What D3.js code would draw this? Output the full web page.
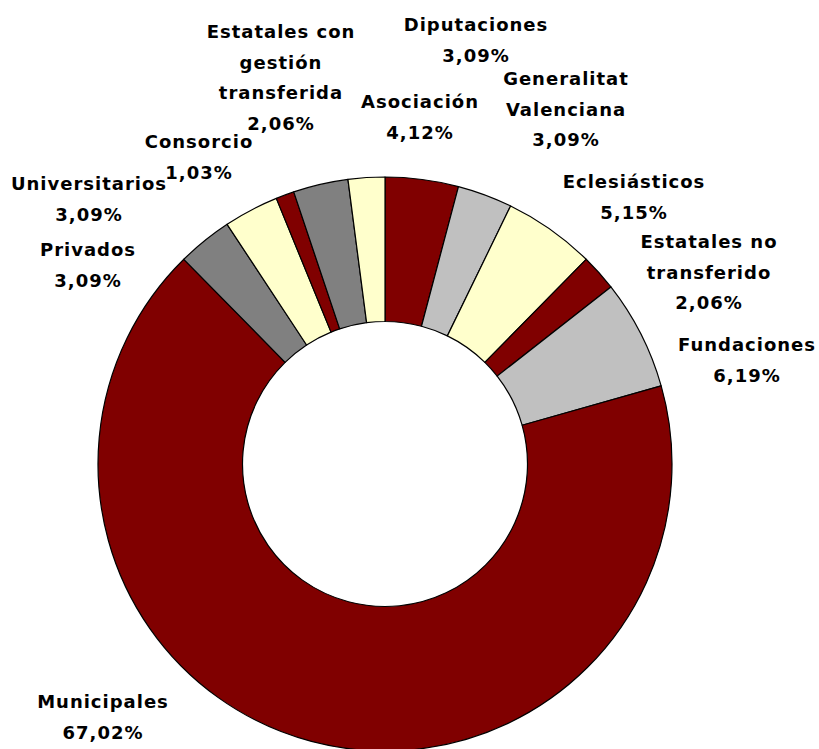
<!DOCTYPE html>
<html>
<head>
<meta charset="utf-8">
<script src="https://cdn.jsdelivr.net/npm/d3@7"></script>
<style>
  html, body { margin: 0; padding: 0; background: #fff; }
  svg { display: block; }
  .lbl { font-family: "DejaVu Sans", Verdana, sans-serif; font-weight: bold; font-size: 18px; letter-spacing: 1px; fill: #000; }
</style>
</head>
<body>
<svg id="chart" width="819" height="749"></svg>
<script>
// Museos por titularidad (%), clockwise from 12 o'clock
const categories = [
  "Asociación",
  "Diputaciones",
  "Eclesiásticos",
  "Estatales no transferido",
  "Fundaciones",
  "Municipales",
  "Privados",
  "Universitarios",
  "Consorcio",
  "Generalitat Valenciana",
  "Estatales con gestión transferida"
];
const values = [4.12, 3.09, 5.15, 2.06, 6.19, 67.02, 3.09, 3.09, 1.03, 3.09, 2.06];

// Label text, split into lines as printed
const labelLines = [
  ["Asociación"],
  ["Diputaciones"],
  ["Eclesiásticos"],
  ["Estatales no", "transferido"],
  ["Fundaciones"],
  ["Municipales"],
  ["Privados"],
  ["Universitarios"],
  ["Consorcio"],
  ["Generalitat", "Valenciana"],
  ["Estatales con", "gestión", "transferida"]
];

const sliceColors = ["#800000", "#C0C0C0", "#FFFFCC", "#800000", "#C0C0C0",
                     "#800000", "#808080", "#FFFFCC", "#800000", "#808080", "#FFFFCC"];

// Label anchor (centre x, first-line y) for each slice
const labelAnchor = [
  [420, 101], [476, 24], [634, 181], [709, 241], [747, 344],
  [103, 701], [88, 249], [89, 183], [199, 141], [566, 78], [281, 31]
];

const svg = d3.select("#chart");
const cx = 385, cy = 464;
const outerR = 287, innerR = 142.5;
const lineH = 30.5;

const pie = d3.pie().sort(null).value(d => d.value);
const arc = d3.arc().innerRadius(innerR).outerRadius(outerR);

const data = categories.map((c, i) => ({ name: c, value: values[i], color: sliceColors[i], lines: labelLines[i], pos: labelAnchor[i] }));

const g = svg.append("g").attr("transform", `translate(${cx},${cy})`);
g.selectAll("path")
  .data(pie(data))
  .join("path")
  .attr("d", arc)
  .attr("fill", d => d.data.color)
  .attr("stroke", "#000")
  .attr("stroke-width", 1.2)
  .attr("stroke-linejoin", "round");

const pct = v => d3.format(".2f")(v).replace(".", ",") + "%";

const labels = svg.append("g").selectAll("text")
  .data(data)
  .join("text")
  .attr("class", "lbl")
  .attr("text-anchor", "middle")
  .attr("dominant-baseline", "central");

labels.each(function(d) {
  const t = d3.select(this);
  const rows = d.lines.concat([pct(d.value)]);
  rows.forEach((row, k) => {
    t.append("tspan")
      .attr("x", d.pos[0])
      .attr("y", d.pos[1] + k * lineH)
      .text(row);
  });
});
</script>
</body>
</html>
